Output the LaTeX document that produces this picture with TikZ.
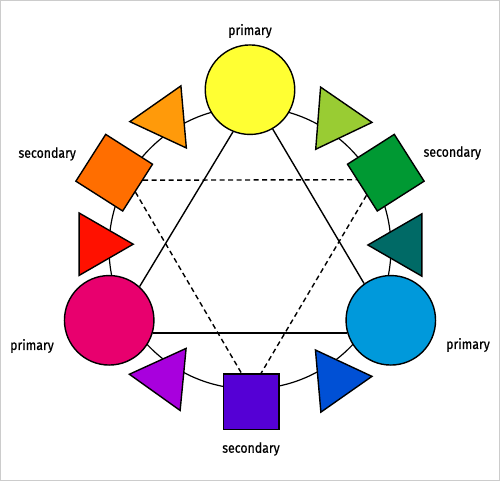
\documentclass[tikz,border=0pt]{standalone}
\usepackage{fontspec}
\setmainfont[FakeStretch=0.88, FakeBold=0.6]{Fira Sans}
\usetikzlibrary{shapes.geometric}
\definecolor{gelb}{HTML}{FFFF33}
\definecolor{gelborange}{HTML}{FF9A0A}
\definecolor{orangeton}{HTML}{FF6E00}
\definecolor{rotton}{HTML}{FF1100}
\definecolor{rotviolett}{HTML}{E8006E}
\definecolor{violett}{HTML}{A800DD}
\definecolor{blauviolett}{HTML}{5500D5}
\definecolor{blauton}{HTML}{0050D5}
\definecolor{hellblau}{HTML}{0099DB}
\definecolor{blaugruen}{HTML}{006A66}
\definecolor{gruen}{HTML}{009933}
\definecolor{gelbgruen}{HTML}{99CC33}

\begin{document}
\begin{tikzpicture}[x=1pt, y=1pt, line width=1.4pt,
  prim/.style={circle, draw, minimum size=89.5pt, inner sep=0pt},
  sek/.style={rectangle, draw, minimum size=55.5pt, inner sep=0pt},
  tert/.style={regular polygon, regular polygon sides=3, draw, minimum size=72pt, inner sep=0pt},
  lbl/.style={font=\fontsize{14}{16}\selectfont}]

\useasboundingbox (-250,-233) rectangle (250,248);
\draw[black!20, line width=1pt] (-249.5,-232.5) rectangle (249.5,247.5);

% Farbkreis
\draw[line width=1.2pt] (0,0) circle (141pt);

% Primaerfarben
\node[prim, fill=gelb]       (p1) at (0,158.3)      {};
\node[prim, fill=rotviolett] (p2) at (-140.8,-72.3) {};
\node[prim, fill=hellblau]   (p3) at (140.8,-72.3)  {};

% Sekundaerfarben
\node[sek, fill=orangeton, rotate=-32.5] (s1) at (-135.8,75.3) {};
\node[sek, fill=gruen, rotate=32.5]      (s2) at (135.8,75.3)  {};
\node[sek, fill=blauviolett]             (s3) at (1.3,-153.7)  {};

% Tertiaerfarben
\node[tert, fill=gelborange, rotate=-25]  (t1) at (-84.3,129.5)  {};
\node[tert, fill=gelbgruen, rotate=25.5]  (t2) at (86.1,128.4)   {};
\node[tert, fill=blaugruen, rotate=-30]   (t3) at (153.9,3)      {};
\node[tert, fill=rotton, rotate=30]       (t4) at (-152.8,3.8)   {};
\node[tert, fill=violett, rotate=-35.5]   (t5) at (-84.8,-129.7) {};
\node[tert, fill=blauton, rotate=35]      (t6) at (86.1,-131.5)  {};

% Dreieck der Primaerfarben
\draw (p1.248) -- (p2.48);
\draw (p1.300) -- (p3.126);
\draw (p2.-16) -- (p3.196);

% Dreieck der Sekundaerfarben, gestrichelt
\draw[dash pattern=on 5pt off 3.5pt] (s1.18.5) -- (s2.161.5);
\draw[dash pattern=on 5pt off 3.5pt] (s1.-10)  -- (s3.109);
\draw[dash pattern=on 5pt off 3.5pt] (s2.197)  -- (s3.71);

% Beschriftungen
\node[lbl] (lp1) at (0,217)        {primary};
\node[lbl] (ls1) at (-202.8,94)    {secondary};
\node[lbl] (ls2) at (202.3,95)     {secondary};
\node[lbl] (lp2) at (-218,-98)     {primary};
\node[lbl] (lp3) at (218,-97)      {primary};
\node[lbl] (ls3) at (1,-201)       {secondary};

\end{tikzpicture}
\end{document}
